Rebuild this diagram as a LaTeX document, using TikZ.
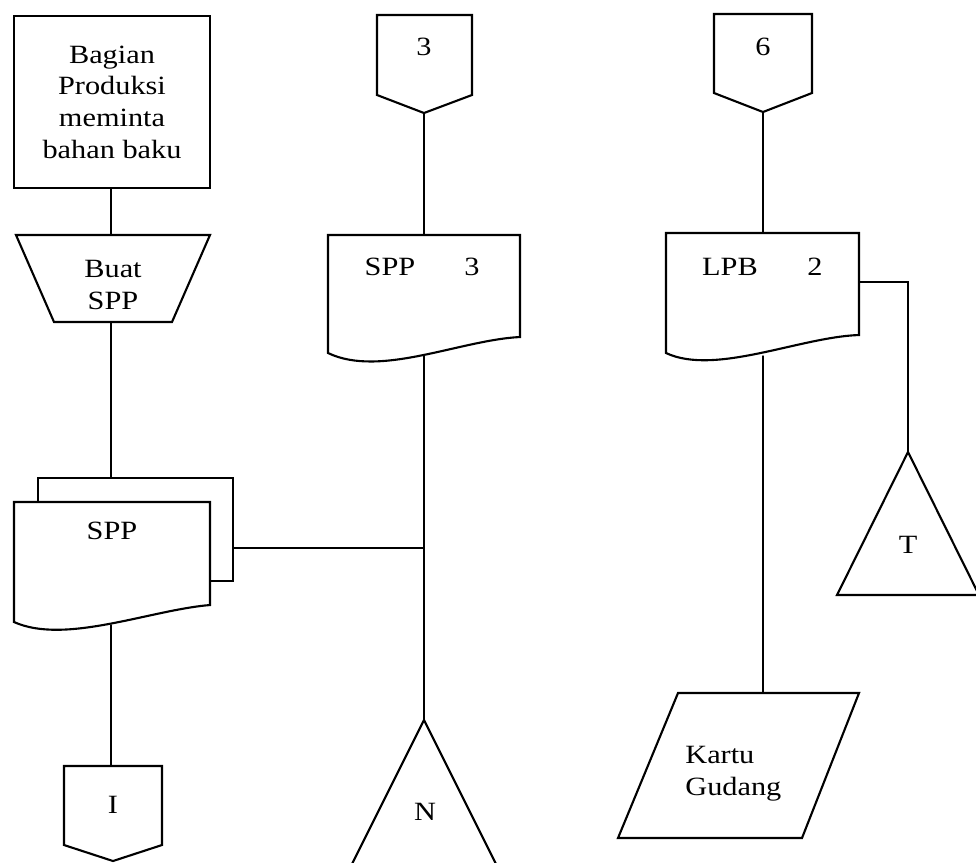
\documentclass[tikz,border=0pt]{standalone}
\usepackage{fontspec}
\setmainfont{Liberation Serif}[FakeStretch=1.15]
\usepackage{tkz-euclide}
\tikzset{>=stealth,
  outline/.style={line width=1.2pt, line join=miter},
  flow/.style={line width=0.8pt},
  lbl/.style={font=\fontsize{15}{18}\selectfont, inner sep=0pt}}

\begin{document}
\begin{tikzpicture}[x=0.2mm,y=-0.2mm]
\useasboundingbox (0,0) rectangle (976,862);
% column one: Bagian Produksi
\tkzDefPoints{14/16/P1, 210/16/P2, 210/188/P3, 14/188/P4}
\tkzDefPoints{16/235/Q1, 210/235/Q2, 172/322/Q3, 54/322/Q4}
\tkzDefPoints{38/502/R1, 38/478/R2, 233/478/R3, 233/581/R4, 210/581/R5}
\tkzDefPoints{14/502/S1, 210/502/S2, 210/605/S3, 14/622/S4}
\tkzDefPoints{64/766/I1, 162/766/I2, 162/845/I3, 113/861/I4, 64/845/I5}
\tkzDefPoints{111/188/a1, 111/235/a2, 111/322/a3, 111/478/a4, 111/625/a5, 111/766/a6}
\tkzDefPoints{233/548/b1, 424/548/b2}
\tkzDrawPolygon[outline](P1,P2,P3,P4)
\tkzDrawPolygon[outline](Q1,Q2,Q3,Q4)
\draw[outline] (R1) -- (R2) -- (R3) -- (R4) -- (R5);
\draw[outline] (S1) -- (S2) -- (S3) .. controls (150,610) and (65,645) .. (S4) -- cycle;
\tkzDrawPolygon[outline](I1,I2,I3,I4,I5)
\tkzDrawSegments[flow](a1,a2 a3,a4 a5,a6 b1,b2)
\node[lbl, align=center] (bagian) at (112,102) {Bagian\\Produksi\\meminta\\bahan baku};
\node[lbl, align=center] (buat) at (113,285) {Buat\\SPP};
\node[lbl] (spp) at (112,531) {SPP};
\node[lbl] (ci) at (113,805) {I};
% column two: SPP lembar 3
\tkzDefPoints{377/15/K1, 472/15/K2, 472/95/K3, 424/113/K4, 377/95/K5}
\tkzDefPoints{328/235/U1, 520/235/U2, 520/337/U3, 328/353/U4}
\tkzDefPoints{424/720/N1, 350/868/N2, 498/868/N3}
\tkzDefPoints{424/235/c1, 424/356/c2}
\tkzDrawPolygon[outline](K1,K2,K3,K4,K5)
\draw[outline] (U1) -- (U2) -- (U3) .. controls (460,340) and (380,378) .. (U4) -- cycle;
\tkzDrawPolygon[outline](N1,N2,N3)
\tkzDrawSegments[flow](K4,c1 c2,N1)
\node[lbl] (ctiga) at (424,47) {3};
\node[lbl] (spptiga) at (390,267) {SPP};
\node[lbl] (nomtiga) at (472,267) {3};
\node[lbl] (arsipn) at (425,812) {N};
% column three: LPB lembar 2
\tkzDefPoints{714/14/L1, 812/14/L2, 812/93/L3, 763/112/L4, 714/93/L5}
\tkzDefPoints{666/233/V1, 859/233/V2, 859/335/V3, 666/353/V4}
\tkzDefPoints{908/452/T1, 837/595/T2, 979/595/T3}
\tkzDefPoints{678/693/G1, 859/693/G2, 802/838/G3, 618/838/G4}
\tkzDefPoints{763/233/d1, 763/356/d2, 763/693/d3, 859/282/e1, 908/282/e2}
\tkzDrawPolygon[outline](L1,L2,L3,L4,L5)
\draw[outline] (V1) -- (V2) -- (V3) .. controls (800,337) and (715,376) .. (V4) -- cycle;
\tkzDrawPolygon[outline](T1,T2,T3)
\tkzDrawPolygon[outline](G1,G2,G3,G4)
\tkzDrawSegments[flow](L4,d1 d2,d3)
\draw[flow] (e1) -- (e2) -- (T1);
\node[lbl] (cenam) at (763,47) {6};
\node[lbl] (lpb) at (730,267) {LPB};
\node[lbl] (nomdua) at (815,267) {2};
\node[lbl] (arsipt) at (908,545) {T};
\node[lbl, align=left, anchor=west] (kartu) at (685,774) {Kartu\\Gudang};
\end{tikzpicture}
\end{document}
